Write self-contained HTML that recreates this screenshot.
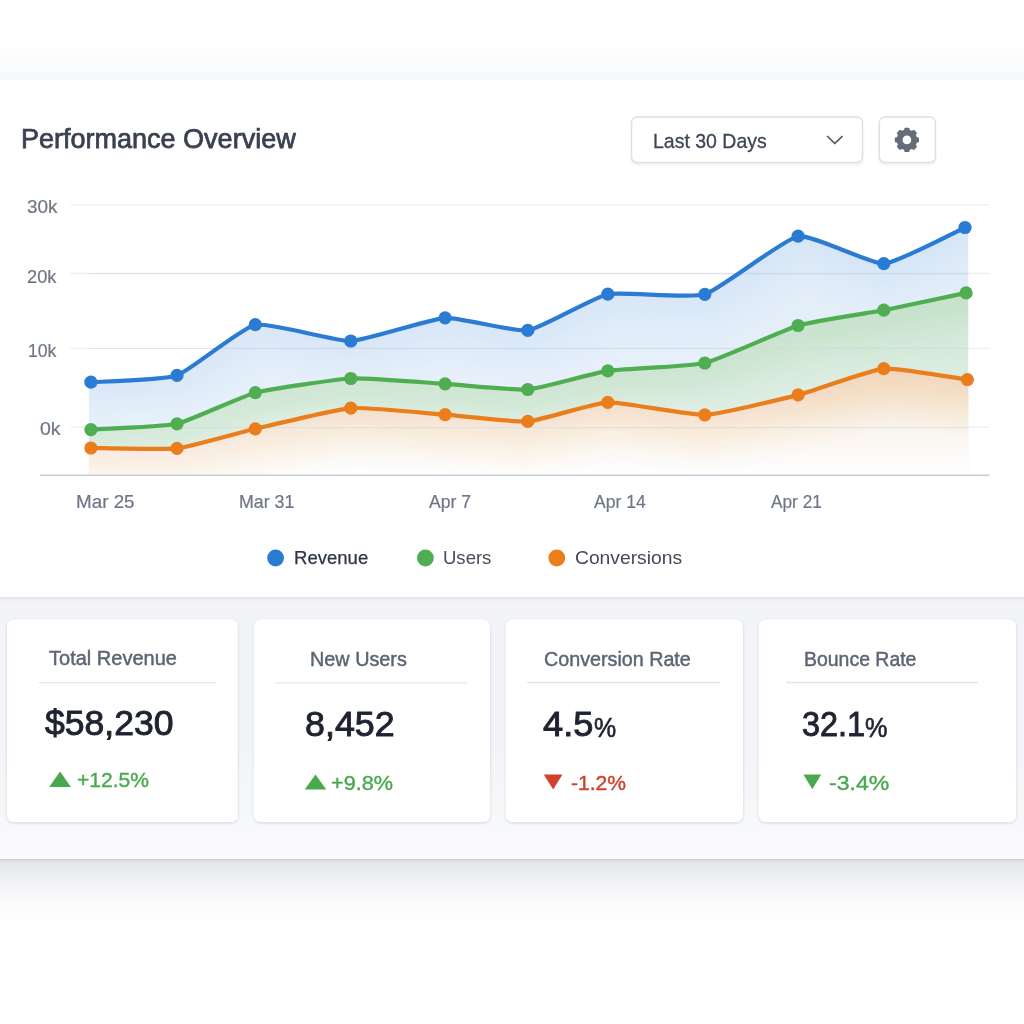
<!DOCTYPE html>
<html lang="en">
<head>
<meta charset="utf-8">
<title>Performance Overview</title>
<style>
  html, body { margin:0; padding:0; }
  body {
    width:1024px; height:1024px; overflow:hidden; position:relative;
    background:#ffffff;
    font-family:"Liberation Sans", sans-serif;
    color:#2f3747;
  }
  .abs { position:absolute; }
  .t { position:absolute; white-space:nowrap; line-height:1; transform-origin:0 50%; }
  #topbg { left:0; top:0; width:1024px; height:80px;
    background:linear-gradient(#ffffff 0px, #ffffff 38px, #fdfdfe 55px, #fafbfc 68px, #f7f8fa 80px); }
  #main { left:-20px; top:79.5px; width:1064px; height:517.8px; background:#ffffff; }
  #strip { left:-20px; top:597px; width:1064px; height:261.5px;
    background:linear-gradient(#e1e4e9 0px, #e6e8ec 1.2px, #eef0f3 3px, #f3f4f7 7px, #f3f4f7 150px, #f7f8fa 225px, #fbfbfc 261px);
    box-shadow:0 1px 2px rgba(40,50,80,0.14); }
  #shadow { left:0; top:858.5px; width:1024px; height:70px;
    background:linear-gradient(rgba(70,80,105,0.17) 0px, rgba(70,80,105,0.12) 8px, rgba(70,80,105,0.065) 25px, rgba(70,80,105,0.025) 45px, rgba(70,80,105,0) 70px); }
</style>
</head>
<body>
<div id="topbg" class="abs"></div>
<div id="shadow" class="abs"></div>
<div id="strip" class="abs"></div>
<div id="main" class="abs"></div>

<!-- chart + icons -->
<svg class="abs" style="left:0; top:0;" width="1024" height="1024" viewBox="0 0 1024 1024">
  <defs>
    <filter id="sh1" x="-5%" y="-20%" width="110%" height="150%">
      <feDropShadow dx="0" dy="1.5" stdDeviation="1.3" flood-color="#28324f" flood-opacity="0.10"/>
    </filter>
    <filter id="sh2" x="-5%" y="-5%" width="110%" height="112%">
      <feDropShadow dx="0" dy="1" stdDeviation="1.4" flood-color="#28324f" flood-opacity="0.16"/>
    </filter>
    <filter id="bl" x="-5%" y="-30%" width="110%" height="160%"><feGaussianBlur stdDeviation="7"/></filter>
    <clipPath id="cb"><path d="M90.9 382.2 C97.4 381.7 164.7 379.7 177.0 375.4 C189.3 371.1 242.3 327.3 255.3 324.7 C268.3 322.1 336.6 341.5 350.8 341.0 C365.0 340.5 431.8 318.6 445.1 317.8 C458.4 317.0 515.6 332.2 527.8 330.4 C540.0 328.6 594.5 296.9 607.8 294.2 C621.1 291.5 690.5 298.7 704.8 294.3 C719.1 289.9 784.7 238.5 798.1 236.2 C811.5 233.9 871.3 264.4 883.8 263.7 C896.3 263.0 958.9 230.2 965.0 227.5 L968.2 227.5 L968.2 475 L88.9 475 L88.9 382.2 Z"/></clipPath>
    <clipPath id="cg"><path d="M90.9 429.6 C97.4 429.2 164.7 426.6 177.0 423.8 C189.3 421.0 242.3 396.1 255.3 392.7 C268.3 389.3 336.6 379.2 350.8 378.5 C365.0 377.8 431.8 383.0 445.1 383.8 C458.4 384.6 515.6 390.5 527.8 389.5 C540.0 388.5 594.5 372.9 607.8 370.9 C621.1 368.9 690.5 366.4 704.8 363.0 C719.1 359.6 784.7 329.5 798.1 325.5 C811.5 321.5 871.2 312.6 883.8 310.2 C896.4 307.8 959.9 294.2 966.1 292.9 L968.2 292.9 L968.2 475 L88.9 475 L88.9 429.6 Z"/></clipPath>
    <clipPath id="co"><path d="M90.9 448.0 C97.4 448.0 164.7 449.8 177.0 448.4 C189.3 447.0 242.3 431.8 255.3 428.8 C268.3 425.8 336.6 409.2 350.8 408.1 C365.0 407.0 431.8 413.7 445.1 414.7 C458.4 415.7 515.6 422.3 527.8 421.4 C540.0 420.5 594.5 402.9 607.8 402.4 C621.1 401.9 690.5 415.4 704.8 414.8 C719.1 414.2 784.7 398.4 798.1 394.9 C811.5 391.4 871.1 369.7 883.8 368.6 C896.5 367.5 961.1 378.8 967.4 379.6 L968.2 379.6 L968.2 475 L88.9 475 L88.9 448.0 Z"/></clipPath>
    <linearGradient id="gb" gradientUnits="userSpaceOnUse" x1="0" y1="227" x2="0" y2="475">
      <stop offset="0" stop-color="#2a7bd3" stop-opacity="0.135"/>
      <stop offset="0.5" stop-color="#2a7bd3" stop-opacity="0.12"/>
      <stop offset="1" stop-color="#2a7bd3" stop-opacity="0.085"/>
    </linearGradient>
    <linearGradient id="gg" gradientUnits="userSpaceOnUse" x1="0" y1="293" x2="0" y2="475">
      <stop offset="0" stop-color="#4ba457" stop-opacity="0.235"/>
      <stop offset="0.4" stop-color="#4ba457" stop-opacity="0.195"/>
      <stop offset="0.8" stop-color="#4ba457" stop-opacity="0.13"/>
      <stop offset="1" stop-color="#4ba457" stop-opacity="0.07"/>
    </linearGradient>
    <linearGradient id="go2" gradientUnits="userSpaceOnUse" x1="0" y1="369" x2="0" y2="475">
      <stop offset="0" stop-color="#d98a3a" stop-opacity="0.25"/>
      <stop offset="0.3" stop-color="#d98a3a" stop-opacity="0.17"/>
      <stop offset="0.55" stop-color="#d98a3a" stop-opacity="0.09"/>
      <stop offset="0.8" stop-color="#d98a3a" stop-opacity="0.035"/>
      <stop offset="1" stop-color="#d98a3a" stop-opacity="0.01"/>
    </linearGradient>
  </defs>
  <!-- header buttons -->
  <g filter="url(#sh1)">
    <rect x="631.6" y="117" width="230.9" height="45.4" rx="5.5" fill="#fff" stroke="#dcdfe5" stroke-width="1.3"/>
    <rect x="879.4" y="117" width="56" height="45.4" rx="5.5" fill="#fff" stroke="#dcdfe5" stroke-width="1.3"/>
  </g>
  <!-- stat cards -->
  <g filter="url(#sh2)">
    <rect x="7" y="619.4" width="230.8" height="202.6" rx="7" fill="#fff"/>
    <rect x="253.8" y="619.4" width="236.2" height="202.6" rx="7" fill="#fff"/>
    <rect x="505.8" y="619.4" width="237.2" height="202.6" rx="7" fill="#fff"/>
    <rect x="758.9" y="619.4" width="257" height="202.6" rx="7" fill="#fff"/>
  </g>
  <g stroke="#e2e5ea" stroke-width="1.3">
    <line x1="39" x2="216" y1="682.6" y2="682.6"/>
    <line x1="275" x2="467" y1="682.8" y2="682.8"/>
    <line x1="527" x2="720.6" y1="682.5" y2="682.5"/>
    <line x1="786" x2="978" y1="682.5" y2="682.5"/>
  </g>
  <line x1="70.5" x2="989.5" y1="204.8" y2="204.8" stroke="#edeff3" stroke-width="1.3"/><line x1="70.5" x2="989.5" y1="273.5" y2="273.5" stroke="#edeff3" stroke-width="1.3"/><line x1="70.5" x2="989.5" y1="348.4" y2="348.4" stroke="#edeff3" stroke-width="1.3"/><line x1="70.5" x2="989.5" y1="427.2" y2="427.2" stroke="#edeff3" stroke-width="1.3"/>
  <path d="M90.9 382.2 C97.4 381.7 164.7 379.7 177.0 375.4 C189.3 371.1 242.3 327.3 255.3 324.7 C268.3 322.1 336.6 341.5 350.8 341.0 C365.0 340.5 431.8 318.6 445.1 317.8 C458.4 317.0 515.6 332.2 527.8 330.4 C540.0 328.6 594.5 296.9 607.8 294.2 C621.1 291.5 690.5 298.7 704.8 294.3 C719.1 289.9 784.7 238.5 798.1 236.2 C811.5 233.9 871.3 264.4 883.8 263.7 C896.3 263.0 958.9 230.2 965.0 227.5 L968.2 227.5 L968.2 475 L88.9 475 L88.9 382.2 Z" fill="url(#gb)"/>
  <g clip-path="url(#cb)"><g filter="url(#bl)" fill="none" stroke="#2a7bd3" stroke-opacity="0.018" stroke-linejoin="round" stroke-linecap="square"><path d="M90.9 382.2 C97.4 381.7 164.7 379.7 177.0 375.4 C189.3 371.1 242.3 327.3 255.3 324.7 C268.3 322.1 336.6 341.5 350.8 341.0 C365.0 340.5 431.8 318.6 445.1 317.8 C458.4 317.0 515.6 332.2 527.8 330.4 C540.0 328.6 594.5 296.9 607.8 294.2 C621.1 291.5 690.5 298.7 704.8 294.3 C719.1 289.9 784.7 238.5 798.1 236.2 C811.5 233.9 871.3 264.4 883.8 263.7 C896.3 263.0 958.9 230.2 965.0 227.5" stroke-width="26"/><path d="M90.9 382.2 C97.4 381.7 164.7 379.7 177.0 375.4 C189.3 371.1 242.3 327.3 255.3 324.7 C268.3 322.1 336.6 341.5 350.8 341.0 C365.0 340.5 431.8 318.6 445.1 317.8 C458.4 317.0 515.6 332.2 527.8 330.4 C540.0 328.6 594.5 296.9 607.8 294.2 C621.1 291.5 690.5 298.7 704.8 294.3 C719.1 289.9 784.7 238.5 798.1 236.2 C811.5 233.9 871.3 264.4 883.8 263.7 C896.3 263.0 958.9 230.2 965.0 227.5" stroke-width="56"/><path d="M90.9 382.2 C97.4 381.7 164.7 379.7 177.0 375.4 C189.3 371.1 242.3 327.3 255.3 324.7 C268.3 322.1 336.6 341.5 350.8 341.0 C365.0 340.5 431.8 318.6 445.1 317.8 C458.4 317.0 515.6 332.2 527.8 330.4 C540.0 328.6 594.5 296.9 607.8 294.2 C621.1 291.5 690.5 298.7 704.8 294.3 C719.1 289.9 784.7 238.5 798.1 236.2 C811.5 233.9 871.3 264.4 883.8 263.7 C896.3 263.0 958.9 230.2 965.0 227.5" stroke-width="92"/></g></g>
  <path d="M90.9 429.6 C97.4 429.2 164.7 426.6 177.0 423.8 C189.3 421.0 242.3 396.1 255.3 392.7 C268.3 389.3 336.6 379.2 350.8 378.5 C365.0 377.8 431.8 383.0 445.1 383.8 C458.4 384.6 515.6 390.5 527.8 389.5 C540.0 388.5 594.5 372.9 607.8 370.9 C621.1 368.9 690.5 366.4 704.8 363.0 C719.1 359.6 784.7 329.5 798.1 325.5 C811.5 321.5 871.2 312.6 883.8 310.2 C896.4 307.8 959.9 294.2 966.1 292.9 L968.2 292.9 L968.2 475 L88.9 475 L88.9 429.6 Z" fill="#fff" fill-opacity="0.85"/>
  <path d="M90.9 429.6 C97.4 429.2 164.7 426.6 177.0 423.8 C189.3 421.0 242.3 396.1 255.3 392.7 C268.3 389.3 336.6 379.2 350.8 378.5 C365.0 377.8 431.8 383.0 445.1 383.8 C458.4 384.6 515.6 390.5 527.8 389.5 C540.0 388.5 594.5 372.9 607.8 370.9 C621.1 368.9 690.5 366.4 704.8 363.0 C719.1 359.6 784.7 329.5 798.1 325.5 C811.5 321.5 871.2 312.6 883.8 310.2 C896.4 307.8 959.9 294.2 966.1 292.9 L968.2 292.9 L968.2 475 L88.9 475 L88.9 429.6 Z" fill="url(#gg)"/>
  <g clip-path="url(#cg)"><g filter="url(#bl)" fill="none" stroke="#4fae52" stroke-opacity="0.037" stroke-linejoin="round" stroke-linecap="square"><path d="M90.9 429.6 C97.4 429.2 164.7 426.6 177.0 423.8 C189.3 421.0 242.3 396.1 255.3 392.7 C268.3 389.3 336.6 379.2 350.8 378.5 C365.0 377.8 431.8 383.0 445.1 383.8 C458.4 384.6 515.6 390.5 527.8 389.5 C540.0 388.5 594.5 372.9 607.8 370.9 C621.1 368.9 690.5 366.4 704.8 363.0 C719.1 359.6 784.7 329.5 798.1 325.5 C811.5 321.5 871.2 312.6 883.8 310.2 C896.4 307.8 959.9 294.2 966.1 292.9" stroke-width="26"/><path d="M90.9 429.6 C97.4 429.2 164.7 426.6 177.0 423.8 C189.3 421.0 242.3 396.1 255.3 392.7 C268.3 389.3 336.6 379.2 350.8 378.5 C365.0 377.8 431.8 383.0 445.1 383.8 C458.4 384.6 515.6 390.5 527.8 389.5 C540.0 388.5 594.5 372.9 607.8 370.9 C621.1 368.9 690.5 366.4 704.8 363.0 C719.1 359.6 784.7 329.5 798.1 325.5 C811.5 321.5 871.2 312.6 883.8 310.2 C896.4 307.8 959.9 294.2 966.1 292.9" stroke-width="56"/><path d="M90.9 429.6 C97.4 429.2 164.7 426.6 177.0 423.8 C189.3 421.0 242.3 396.1 255.3 392.7 C268.3 389.3 336.6 379.2 350.8 378.5 C365.0 377.8 431.8 383.0 445.1 383.8 C458.4 384.6 515.6 390.5 527.8 389.5 C540.0 388.5 594.5 372.9 607.8 370.9 C621.1 368.9 690.5 366.4 704.8 363.0 C719.1 359.6 784.7 329.5 798.1 325.5 C811.5 321.5 871.2 312.6 883.8 310.2 C896.4 307.8 959.9 294.2 966.1 292.9" stroke-width="92"/></g></g>
  <path d="M90.9 448.0 C97.4 448.0 164.7 449.8 177.0 448.4 C189.3 447.0 242.3 431.8 255.3 428.8 C268.3 425.8 336.6 409.2 350.8 408.1 C365.0 407.0 431.8 413.7 445.1 414.7 C458.4 415.7 515.6 422.3 527.8 421.4 C540.0 420.5 594.5 402.9 607.8 402.4 C621.1 401.9 690.5 415.4 704.8 414.8 C719.1 414.2 784.7 398.4 798.1 394.9 C811.5 391.4 871.1 369.7 883.8 368.6 C896.5 367.5 961.1 378.8 967.4 379.6 L968.2 379.6 L968.2 475 L88.9 475 L88.9 448.0 Z" fill="#fff" fill-opacity="0.9"/>
  <path d="M90.9 448.0 C97.4 448.0 164.7 449.8 177.0 448.4 C189.3 447.0 242.3 431.8 255.3 428.8 C268.3 425.8 336.6 409.2 350.8 408.1 C365.0 407.0 431.8 413.7 445.1 414.7 C458.4 415.7 515.6 422.3 527.8 421.4 C540.0 420.5 594.5 402.9 607.8 402.4 C621.1 401.9 690.5 415.4 704.8 414.8 C719.1 414.2 784.7 398.4 798.1 394.9 C811.5 391.4 871.1 369.7 883.8 368.6 C896.5 367.5 961.1 378.8 967.4 379.6 L968.2 379.6 L968.2 475 L88.9 475 L88.9 448.0 Z" fill="url(#go2)"/>
  <g clip-path="url(#co)"><g filter="url(#bl)" fill="none" stroke="#d98a3a" stroke-opacity="0.04" stroke-linejoin="round" stroke-linecap="square"><path d="M90.9 448.0 C97.4 448.0 164.7 449.8 177.0 448.4 C189.3 447.0 242.3 431.8 255.3 428.8 C268.3 425.8 336.6 409.2 350.8 408.1 C365.0 407.0 431.8 413.7 445.1 414.7 C458.4 415.7 515.6 422.3 527.8 421.4 C540.0 420.5 594.5 402.9 607.8 402.4 C621.1 401.9 690.5 415.4 704.8 414.8 C719.1 414.2 784.7 398.4 798.1 394.9 C811.5 391.4 871.1 369.7 883.8 368.6 C896.5 367.5 961.1 378.8 967.4 379.6" stroke-width="26"/><path d="M90.9 448.0 C97.4 448.0 164.7 449.8 177.0 448.4 C189.3 447.0 242.3 431.8 255.3 428.8 C268.3 425.8 336.6 409.2 350.8 408.1 C365.0 407.0 431.8 413.7 445.1 414.7 C458.4 415.7 515.6 422.3 527.8 421.4 C540.0 420.5 594.5 402.9 607.8 402.4 C621.1 401.9 690.5 415.4 704.8 414.8 C719.1 414.2 784.7 398.4 798.1 394.9 C811.5 391.4 871.1 369.7 883.8 368.6 C896.5 367.5 961.1 378.8 967.4 379.6" stroke-width="56"/><path d="M90.9 448.0 C97.4 448.0 164.7 449.8 177.0 448.4 C189.3 447.0 242.3 431.8 255.3 428.8 C268.3 425.8 336.6 409.2 350.8 408.1 C365.0 407.0 431.8 413.7 445.1 414.7 C458.4 415.7 515.6 422.3 527.8 421.4 C540.0 420.5 594.5 402.9 607.8 402.4 C621.1 401.9 690.5 415.4 704.8 414.8 C719.1 414.2 784.7 398.4 798.1 394.9 C811.5 391.4 871.1 369.7 883.8 368.6 C896.5 367.5 961.1 378.8 967.4 379.6" stroke-width="92"/></g></g>
  <line x1="89" x2="968" y1="273.7" y2="273.7" stroke="#cdd5e3" stroke-opacity="0.5" stroke-width="1.2"/><line x1="89" x2="968" y1="348.5" y2="348.5" stroke="#cdd5e3" stroke-opacity="0.5" stroke-width="1.2"/><line x1="89" x2="968" y1="427.6" y2="427.6" stroke="#cdd5e3" stroke-opacity="0.5" stroke-width="1.2"/>
  <line x1="40" x2="989.5" y1="475.2" y2="475.2" stroke="#c8ccd5" stroke-width="1.6"/>
  <path d="M90.9 382.2 C97.4 381.7 164.7 379.7 177.0 375.4 C189.3 371.1 242.3 327.3 255.3 324.7 C268.3 322.1 336.6 341.5 350.8 341.0 C365.0 340.5 431.8 318.6 445.1 317.8 C458.4 317.0 515.6 332.2 527.8 330.4 C540.0 328.6 594.5 296.9 607.8 294.2 C621.1 291.5 690.5 298.7 704.8 294.3 C719.1 289.9 784.7 238.5 798.1 236.2 C811.5 233.9 871.3 264.4 883.8 263.7 C896.3 263.0 958.9 230.2 965.0 227.5" fill="none" stroke="#2a7bd3" stroke-width="4.2" stroke-linecap="round" stroke-linejoin="round"/>
  <path d="M90.9 429.6 C97.4 429.2 164.7 426.6 177.0 423.8 C189.3 421.0 242.3 396.1 255.3 392.7 C268.3 389.3 336.6 379.2 350.8 378.5 C365.0 377.8 431.8 383.0 445.1 383.8 C458.4 384.6 515.6 390.5 527.8 389.5 C540.0 388.5 594.5 372.9 607.8 370.9 C621.1 368.9 690.5 366.4 704.8 363.0 C719.1 359.6 784.7 329.5 798.1 325.5 C811.5 321.5 871.2 312.6 883.8 310.2 C896.4 307.8 959.9 294.2 966.1 292.9" fill="none" stroke="#4fae52" stroke-width="4.2" stroke-linecap="round" stroke-linejoin="round"/>
  <path d="M90.9 448.0 C97.4 448.0 164.7 449.8 177.0 448.4 C189.3 447.0 242.3 431.8 255.3 428.8 C268.3 425.8 336.6 409.2 350.8 408.1 C365.0 407.0 431.8 413.7 445.1 414.7 C458.4 415.7 515.6 422.3 527.8 421.4 C540.0 420.5 594.5 402.9 607.8 402.4 C621.1 401.9 690.5 415.4 704.8 414.8 C719.1 414.2 784.7 398.4 798.1 394.9 C811.5 391.4 871.1 369.7 883.8 368.6 C896.5 367.5 961.1 378.8 967.4 379.6" fill="none" stroke="#ea7d1c" stroke-width="4.2" stroke-linecap="round" stroke-linejoin="round"/>
  <circle cx="90.9" cy="382.2" r="6.6" fill="#2a7bd3"/><circle cx="177.0" cy="375.4" r="6.6" fill="#2a7bd3"/><circle cx="255.3" cy="324.7" r="6.6" fill="#2a7bd3"/><circle cx="350.8" cy="341.0" r="6.6" fill="#2a7bd3"/><circle cx="445.1" cy="317.8" r="6.6" fill="#2a7bd3"/><circle cx="527.8" cy="330.4" r="6.6" fill="#2a7bd3"/><circle cx="607.8" cy="294.2" r="6.6" fill="#2a7bd3"/><circle cx="704.8" cy="294.3" r="6.6" fill="#2a7bd3"/><circle cx="798.1" cy="236.2" r="6.6" fill="#2a7bd3"/><circle cx="883.8" cy="263.7" r="6.6" fill="#2a7bd3"/><circle cx="965.0" cy="227.5" r="6.6" fill="#2a7bd3"/>
  <circle cx="90.9" cy="429.6" r="6.6" fill="#4fae52"/><circle cx="177.0" cy="423.8" r="6.6" fill="#4fae52"/><circle cx="255.3" cy="392.7" r="6.6" fill="#4fae52"/><circle cx="350.8" cy="378.5" r="6.6" fill="#4fae52"/><circle cx="445.1" cy="383.8" r="6.6" fill="#4fae52"/><circle cx="527.8" cy="389.5" r="6.6" fill="#4fae52"/><circle cx="607.8" cy="370.9" r="6.6" fill="#4fae52"/><circle cx="704.8" cy="363.0" r="6.6" fill="#4fae52"/><circle cx="798.1" cy="325.5" r="6.6" fill="#4fae52"/><circle cx="883.8" cy="310.2" r="6.6" fill="#4fae52"/><circle cx="966.1" cy="292.9" r="6.6" fill="#4fae52"/>
  <circle cx="90.9" cy="448.0" r="6.6" fill="#ea7d1c"/><circle cx="177.0" cy="448.4" r="6.6" fill="#ea7d1c"/><circle cx="255.3" cy="428.8" r="6.6" fill="#ea7d1c"/><circle cx="350.8" cy="408.1" r="6.6" fill="#ea7d1c"/><circle cx="445.1" cy="414.7" r="6.6" fill="#ea7d1c"/><circle cx="527.8" cy="421.4" r="6.6" fill="#ea7d1c"/><circle cx="607.8" cy="402.4" r="6.6" fill="#ea7d1c"/><circle cx="704.8" cy="414.8" r="6.6" fill="#ea7d1c"/><circle cx="798.1" cy="394.9" r="6.6" fill="#ea7d1c"/><circle cx="883.8" cy="368.6" r="6.6" fill="#ea7d1c"/><circle cx="967.4" cy="379.6" r="6.6" fill="#ea7d1c"/>
  <!-- legend dots -->
  <circle cx="275.6" cy="558" r="8.4" fill="#2a7bd3"/>
  <circle cx="425.4" cy="558" r="8.4" fill="#4fae52"/>
  <circle cx="556.8" cy="558" r="8.4" fill="#ea7d1c"/>
  <!-- chevron -->
  <path d="M827.6 136.5 L834.8 143.5 L842 136.5" fill="none" stroke="#4b5362" stroke-width="1.7" stroke-linecap="round" stroke-linejoin="round"/>
  <!-- gear -->
  <path d="M904.73 130.55 L905.19 128.53 L908.61 128.53 L909.07 130.55 L911.98 131.75 L913.73 130.65 L916.15 133.07 L915.05 134.82 L916.25 137.73 L918.27 138.19 L918.27 141.61 L916.25 142.07 L915.05 144.98 L916.15 146.73 L913.73 149.15 L911.98 148.05 L909.07 149.25 L908.61 151.27 L905.19 151.27 L904.73 149.25 L901.82 148.05 L900.07 149.15 L897.65 146.73 L898.75 144.98 L897.55 142.07 L895.53 141.61 L895.53 138.19 L897.55 137.73 L898.75 134.82 L897.65 133.07 L900.07 130.65 L901.82 131.75 Z M901.80 139.90 a5.10 5.10 0 1 0 10.20 0 a5.10 5.10 0 1 0 -10.20 0 Z" fill="#656d7b" fill-rule="evenodd" stroke="#656d7b" stroke-width="1.5" stroke-linejoin="round"/>
  <!-- trend arrows -->
  <path d="M49.2 787.0 L60.1 771.5 L70.9 787.0 Z" fill="#4aa94f"/>
  <path d="M304.7 789.4 L315.5 774.4 L326.3 789.4 Z" fill="#4aa94f"/>
  <path d="M543.8 774.4 L553.1 789.4 L562.5 774.4 Z" fill="#d0412f"/>
  <path d="M803.4 774.4 L812.3 789.2 L821.2 774.4 Z" fill="#4aa94f"/>
</svg>

<!-- text -->
<div class="t" id="title" style="left:20.6px; top:125.36px; font-size:27.5px; color:#394150; -webkit-text-stroke:0.75px #394150;transform:scaleX(0.9821);">Performance Overview</div>
<div class="t" id="dd" style="left:652.8px; top:129.72px; font-size:21px; color:#3d4554; -webkit-text-stroke:0.3px #3d4554;transform:scaleX(0.9280);">Last 30 Days</div>
<div class="t" id="y30" style="left:26.5px; top:197.84px; font-size:18.5px; color:#6e7685; -webkit-text-stroke:0.2px #6e7685;transform:scaleX(1.0223);">30k</div>
<div class="t" id="y20" style="left:27.1px; top:267.84px; font-size:18.5px; color:#6e7685; -webkit-text-stroke:0.2px #6e7685;transform:scaleX(0.9849);">20k</div>
<div class="t" id="y10" style="left:28.2px; top:341.84px; font-size:18.5px; color:#6e7685; -webkit-text-stroke:0.2px #6e7685;transform:scaleX(0.9527);">10k</div>
<div class="t" id="y0" style="left:40.0px; top:420.14px; font-size:18.5px; color:#6e7685; -webkit-text-stroke:0.2px #6e7685;transform:scaleX(1.0561);">0k</div>
<div class="t" id="x1" style="left:75.5px; top:492.96px; font-size:18px; color:#6e7685; -webkit-text-stroke:0.2px #6e7685;transform:scaleX(1.0458);">Mar 25</div>
<div class="t" id="x2" style="left:239.2px; top:492.96px; font-size:18px; color:#6e7685; -webkit-text-stroke:0.2px #6e7685;transform:scaleX(0.9889);">Mar 31</div>
<div class="t" id="x3" style="left:429.0px; top:492.96px; font-size:18px; color:#6e7685; -webkit-text-stroke:0.2px #6e7685;transform:scaleX(0.9803);">Apr 7</div>
<div class="t" id="x4" style="left:594.0px; top:492.96px; font-size:18px; color:#6e7685; -webkit-text-stroke:0.2px #6e7685;transform:scaleX(0.9749);">Apr 14</div>
<div class="t" id="x5" style="left:771.0px; top:492.96px; font-size:18px; color:#6e7685; -webkit-text-stroke:0.2px #6e7685;transform:scaleX(0.9593);">Apr 21</div>
<div class="t" id="l1" style="left:293.9px; top:548.84px; font-size:18.5px; color:#2e3544; -webkit-text-stroke:0.25px #2e3544;transform:scaleX(1.0019);">Revenue</div>
<div class="t" id="l2" style="left:442.7px; top:548.84px; font-size:18.5px; color:#464e5d; transform:scaleX(1.0010);">Users</div>
<div class="t" id="l3" style="left:574.8px; top:548.84px; font-size:18.5px; color:#424a59; transform:scaleX(1.0412);">Conversions</div>
<div class="t" id="c1t" style="left:49.0px; top:648.49px; font-size:20px; color:#5c6573; -webkit-text-stroke:0.45px #5c6573;transform:scaleX(1.0011);">Total Revenue</div>
<div class="t" id="c2t" style="left:310.0px; top:648.99px; font-size:20px; color:#5c6573; -webkit-text-stroke:0.45px #5c6573;transform:scaleX(0.9905);">New Users</div>
<div class="t" id="c3t" style="left:544.3px; top:648.99px; font-size:20px; color:#5c6573; -webkit-text-stroke:0.45px #5c6573;transform:scaleX(0.9855);">Conversion Rate</div>
<div class="t" id="c4t" style="left:803.8px; top:648.99px; font-size:20px; color:#5c6573; -webkit-text-stroke:0.45px #5c6573;transform:scaleX(0.9721);">Bounce Rate</div>
<div class="t" id="c1v" style="left:45.0px; top:706.30px; font-size:35.6px; color:#1e2330; -webkit-text-stroke:0.95px #1e2330;transform:scaleX(0.9989);">$58,230</div>
<div class="t" id="c2v" style="left:304.9px; top:706.80px; font-size:35.6px; color:#1e2330; -webkit-text-stroke:0.95px #1e2330;transform:scaleX(1.0071);">8,452</div>
<div class="t" id="c3v" style="left:542.6px; top:706.80px; font-size:35.6px; color:#1e2330; -webkit-text-stroke:0.95px #1e2330;transform:scaleX(1.0179);">4.5</div><div class="t" id="c3p" style="left:594.3px; top:712.88px; font-size:28.4px; color:#1e2330; -webkit-text-stroke:0.65px #1e2330;transform:scaleX(0.8769);">%</div>
<div class="t" id="c4v" style="left:801.6px; top:706.80px; font-size:35.6px; color:#1e2330; -webkit-text-stroke:0.95px #1e2330;transform:scaleX(0.9115);">32.1</div><div class="t" id="c4p" style="left:865.0px; top:712.88px; font-size:28.4px; color:#1e2330; -webkit-text-stroke:0.65px #1e2330;transform:scaleX(0.8892);">%</div>
<div class="t" id="c1d" style="left:77.2px; top:770.13px; font-size:20.4px; color:#4aa94f; -webkit-text-stroke:0.4px #4aa94f;transform:scaleX(1.0334);">+12.5%</div>
<div class="t" id="c2d" style="left:331.3px; top:772.93px; font-size:20.4px; color:#4aa94f; -webkit-text-stroke:0.4px #4aa94f;transform:scaleX(1.0605);">+9.8%</div>
<div class="t" id="c3d" style="left:571.4px; top:772.93px; font-size:20.4px; color:#d0412f; -webkit-text-stroke:0.4px #d0412f;transform:scaleX(1.0345);">-1.2%</div>
<div class="t" id="c4d" style="left:829.2px; top:772.93px; font-size:20.4px; color:#4aa94f; -webkit-text-stroke:0.4px #4aa94f;transform:scaleX(1.1296);">-3.4%</div>

</body>
</html>
